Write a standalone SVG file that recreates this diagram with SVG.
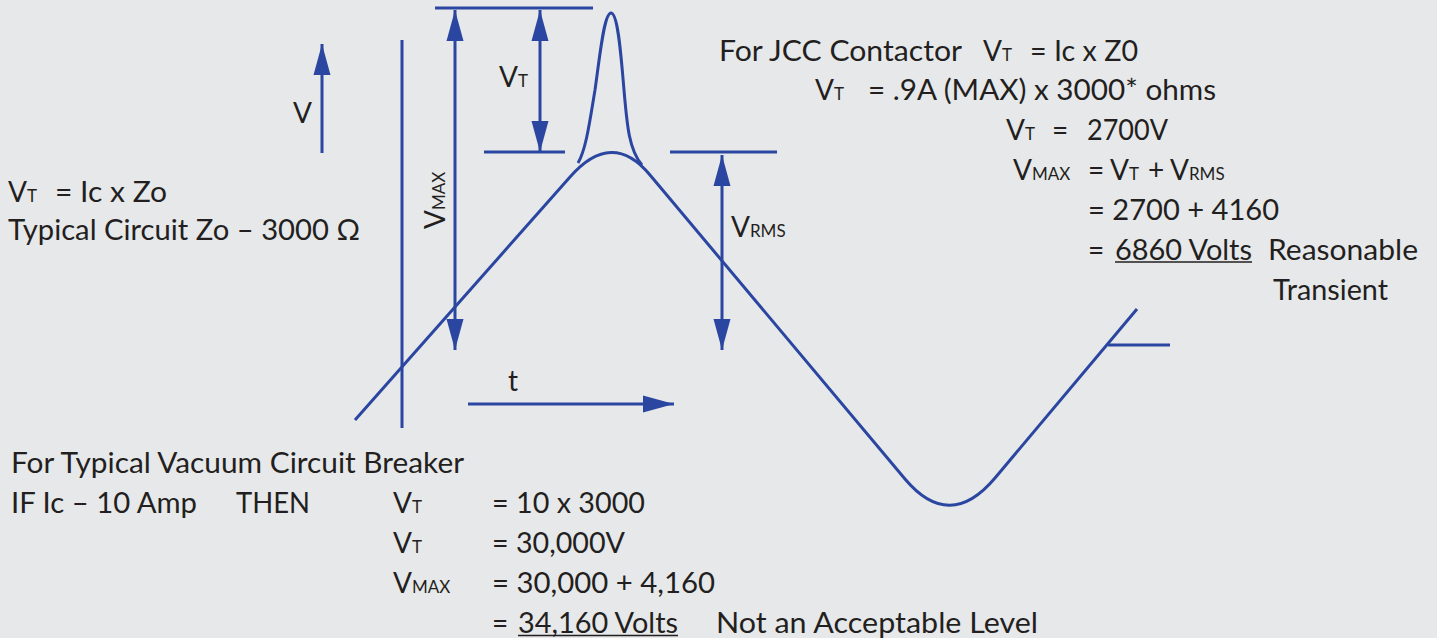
<svg xmlns="http://www.w3.org/2000/svg" width="1437" height="638" viewBox="0 0 1437 638">
<style>
.bg{fill:#e7e8ea}
.ln{stroke:#2b46a0;stroke-width:3;fill:none}
.ar{stroke:#2b46a0;stroke-width:3;fill:none;marker-end:url(#ah)}
.ar2{stroke:#2b46a0;stroke-width:3;fill:none;marker-start:url(#ah);marker-end:url(#ah)}
text{font-family:Lato,"Open Sans",sans-serif;font-size:28px;fill:#231f20}
.s{font-size:17px}
.ul{stroke:#231f20;stroke-width:1.6}
</style>
<defs>
<marker id="ah" markerUnits="userSpaceOnUse" markerWidth="32" markerHeight="18" refX="31" refY="8.5" orient="auto-start-reverse" viewBox="0 0 32 17">
<path d="M0,0 L31,8.5 L0,17 Z" fill="#2b46a0"/>
</marker>
</defs>
<rect class="bg" x="0" y="0" width="1437" height="638"/>

<g id="connectors">
<path id="wave" class="ln" d="M355,420 L570,177 Q612,129 650,175 L905,479 Q949.6,532 995,478 L1137,309"/>
<path id="spike" class="ln" d="M578,163 C586,150 590,120 595,90 C600,55 604,13 611,13 C618,13 621,55 624,90 C627,125 629,150 642,165"/>
<line class="ln" x1="402" y1="40" x2="402" y2="428"/>
<line class="ln" x1="435" y1="8" x2="593" y2="8"/>
<line class="ln" x1="484" y1="152" x2="565" y2="152"/>
<line class="ln" x1="670" y1="152" x2="777" y2="152"/>
<line class="ln" x1="1108" y1="345" x2="1170" y2="345"/>
<line class="ar" x1="322" y1="153" x2="322" y2="44"/>
<line class="ar2" x1="455" y1="10" x2="455" y2="350"/>
<line class="ar2" x1="540" y1="10" x2="540" y2="152"/>
<line class="ar2" x1="722" y1="155" x2="722" y2="350"/>
<line class="ar" x1="468" y1="404" x2="674" y2="404"/>
</g>

<g id="axis-labels">
<text x="293" y="123">V</text>
<text x="508" y="391">t</text>
<text x="499" y="87">V<tspan class="s">T</tspan></text>
<text x="731" y="237">V<tspan class="s">RMS</tspan></text>
<text transform="translate(445,229) rotate(-90)" x="0" y="0">V<tspan class="s">MAX</tspan></text>
</g>

<g id="jcc-text">
<text x="719" y="61" textLength="243" lengthAdjust="spacingAndGlyphs">For JCC Contactor</text>
<text x="983" y="61">V<tspan class="s">T</tspan></text>
<text x="1030" y="61" textLength="108" lengthAdjust="spacingAndGlyphs">= Ic x Z0</text>
<text x="815" y="100">V<tspan class="s">T</tspan></text>
<text x="868" y="100" textLength="348" lengthAdjust="spacingAndGlyphs">= .9A (MAX) x 3000* ohms</text>
<text x="1006" y="140">V<tspan class="s">T</tspan></text>
<text x="1052" y="140">=</text>
<text x="1087" y="140" textLength="81" lengthAdjust="spacingAndGlyphs">2700V</text>
<text x="1013" y="180">V<tspan class="s">MAX</tspan></text>
<text x="1088" y="180">=</text>
<text x="1110" y="180">V<tspan class="s">T</tspan></text>
<text x="1148" y="180">+</text>
<text x="1170" y="180">V<tspan class="s">RMS</tspan></text>
<text x="1088" y="220" textLength="191" lengthAdjust="spacingAndGlyphs">= 2700 + 4160</text>
<text x="1088" y="260">=</text>
<text x="1115" y="260" textLength="137" lengthAdjust="spacingAndGlyphs">6860 Volts</text>
<line class="ul" x1="1115" y1="262" x2="1252" y2="262"/>
<text x="1268" y="260" textLength="150" lengthAdjust="spacingAndGlyphs">Reasonable</text>
<text x="1273" y="300" textLength="115" lengthAdjust="spacingAndGlyphs">Transient</text>
</g>

<g id="left-text">
<text x="8" y="202">V<tspan class="s">T</tspan></text>
<text x="55" y="202" textLength="112" lengthAdjust="spacingAndGlyphs">= Ic x Zo</text>
<text x="8" y="240" textLength="352" lengthAdjust="spacingAndGlyphs">Typical Circuit Zo – 3000 Ω</text>
</g>

<g id="vcb-text">
<text x="11" y="473" textLength="453" lengthAdjust="spacingAndGlyphs">For Typical Vacuum Circuit Breaker</text>
<text x="11" y="513" textLength="186" lengthAdjust="spacingAndGlyphs">IF Ic – 10 Amp</text>
<text x="236" y="513" textLength="74" lengthAdjust="spacingAndGlyphs">THEN</text>
<text x="393" y="513">V<tspan class="s">T</tspan></text>
<text x="492" y="513" textLength="153" lengthAdjust="spacingAndGlyphs">= 10 x 3000</text>
<text x="393" y="553">V<tspan class="s">T</tspan></text>
<text x="492" y="553" textLength="133" lengthAdjust="spacingAndGlyphs">= 30,000V</text>
<text x="393" y="593">V<tspan class="s">MAX</tspan></text>
<text x="492" y="593" textLength="223" lengthAdjust="spacingAndGlyphs">= 30,000 + 4,160</text>
<text x="492" y="633">=</text>
<text x="518" y="633" textLength="160" lengthAdjust="spacingAndGlyphs">34,160 Volts</text>
<line class="ul" x1="518" y1="635.5" x2="678" y2="635.5"/>
<text x="716" y="633" textLength="322" lengthAdjust="spacingAndGlyphs">Not an Acceptable Level</text>
</g>
</svg>
